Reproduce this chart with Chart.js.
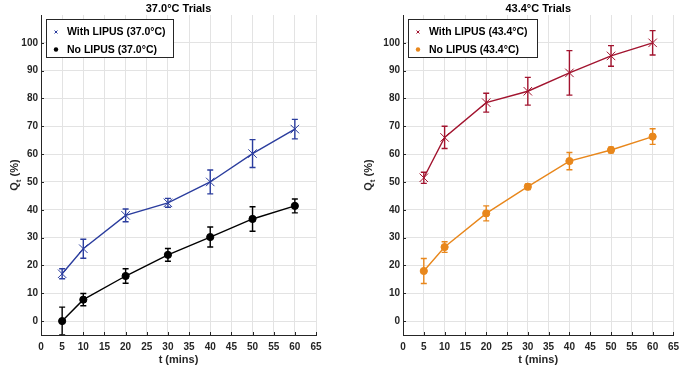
<!DOCTYPE html>
<html>
<head>
<meta charset="utf-8">
<script src="https://cdn.jsdelivr.net/npm/chart.js@4"></script>
<style>
    body { margin: 0; background: #fff; }
    .wrap { position: absolute; top: 0; width: 342px; height: 368px; }
    #leftWrap { left: 0; }
    #rightWrap { left: 343px; }
</style>
</head>
<body>
<div class="wrap" id="leftWrap"><canvas id="chart37"></canvas></div>
<div class="wrap" id="rightWrap"><canvas id="chart43"></canvas></div>
<script>
// ===================================
// Q_t vs time, with / without LIPUS
// ===================================

const times = [5, 10, 20, 30, 40, 50, 60];
const xTicks = [0, 5, 10, 15, 20, 25, 30, 35, 40, 45, 50, 55, 60, 65];
const yTicks = [0, 10, 20, 30, 40, 50, 60, 70, 80, 90, 100];

// 37.0 C trials
const lipus37 = [17, 26, 38, 42.5, 50, 60.2, 69];
const lipus37Err = [1.8, 3.4, 2.3, 1.6, 4.3, 5, 3.5];
const noLipus37 = [0, 7.7, 16.2, 23.8, 30.2, 36.7, 41.4];
const noLipus37Err = [5, 2.2, 2.6, 2.3, 3.6, 4.4, 2.5];

// 43.4 C trials
const lipus43 = [51.5, 66, 78.5, 82.6, 89.2, 95.3, 100];
const lipus43Err = [2, 4, 3.4, 5, 8, 3.7, 4.4];
const noLipus43 = [18, 26.6, 38.7, 48.3, 57.5, 61.5, 66.3];
const noLipus43Err = [4.5, 1.9, 2.7, 1, 3.1, 1, 2.8];

const AXIS_COLOR = '#262626';
const GRID_COLOR = '#e3e3e3';
const FONT = 'Liberation Sans, Arial, sans-serif';

function toPoints(values) {
    return times.map((t, i) => ({ x: t, y: values[i] }));
}

// Error bars drawn through the chart scales
const errorBarPlugin = {
    id: 'errorBars',
    beforeDatasetsDraw(chart) {
        const ctx = chart.ctx;
        const xs = chart.scales.x;
        const ys = chart.scales.y;
        const area = chart.chartArea;
        ctx.save();
        ctx.beginPath();
        ctx.rect(area.left, area.top, area.right - area.left, area.bottom - area.top);
        ctx.clip();
        chart.data.datasets.forEach(ds => {
            ctx.strokeStyle = ds.borderColor;
            ctx.lineWidth = 1.4;
            ds.data.forEach((p, i) => {
                const e = ds.errors[i];
                const px = xs.getPixelForValue(p.x);
                const top = ys.getPixelForValue(p.y + e);
                const bot = ys.getPixelForValue(p.y - e);
                ctx.beginPath();
                ctx.moveTo(px, top); ctx.lineTo(px, bot);
                ctx.moveTo(px - 3, top); ctx.lineTo(px + 3, top);
                ctx.moveTo(px - 3, bot); ctx.lineTo(px + 3, bot);
                ctx.stroke();
            });
        });
        ctx.restore();
    }
};

// Title, axis titles, inward tick marks and boxed legend
const decorPlugin = {
    id: 'decor',
    afterDraw(chart, args, opts) {
        const ctx = chart.ctx;
        const area = chart.chartArea;
        const cx = (area.left + area.right) / 2;
        ctx.save();

        // inward tick marks
        ctx.strokeStyle = AXIS_COLOR;
        ctx.lineWidth = 1;
        ctx.beginPath();
        xTicks.forEach(v => {
            const px = Math.round(chart.scales.x.getPixelForValue(v)) + 0.5;
            ctx.moveTo(px, area.bottom); ctx.lineTo(px, area.bottom - 3);
        });
        yTicks.forEach(v => {
            const py = Math.round(chart.scales.y.getPixelForValue(v)) + 0.5;
            ctx.moveTo(area.left, py); ctx.lineTo(area.left + 3, py);
        });
        ctx.stroke();

        ctx.fillStyle = '#000';
        ctx.textAlign = 'center';
        ctx.textBaseline = 'middle';
        ctx.font = 'bold 11px ' + FONT;
        ctx.fillText(opts.title, cx, 9);
        ctx.fillStyle = AXIS_COLOR;
        ctx.fillText('t (mins)', cx, 360);

        // y title: Q with subscript t
        ctx.save();
        ctx.translate(opts.yTitleX, (area.top + area.bottom) / 2);
        ctx.rotate(-Math.PI / 2);
        ctx.textAlign = 'left';
        ctx.textBaseline = 'alphabetic';
        ctx.font = 'bold 11px ' + FONT;
        const wQ = ctx.measureText('Q').width;
        ctx.font = 'bold 8px ' + FONT;
        const wt = ctx.measureText('t').width;
        ctx.font = 'bold 11px ' + FONT;
        const wRest = ctx.measureText(' (%)').width;
        let x0 = -(wQ + wt + wRest) / 2;
        ctx.fillText('Q', x0, 0);
        ctx.font = 'bold 8px ' + FONT;
        ctx.fillText('t', x0 + wQ, 3);
        ctx.font = 'bold 11px ' + FONT;
        ctx.fillText(' (%)', x0 + wQ + wt, 0);
        ctx.restore();

        // legend box
        const lx = opts.legendX;
        ctx.fillStyle = '#fff';
        ctx.fillRect(lx, 19, opts.legendW, 38);
        ctx.strokeStyle = AXIS_COLOR;
        ctx.lineWidth = 1;
        ctx.strokeRect(lx + 0.5, 19.5, opts.legendW, 38);
        ctx.textAlign = 'left';
        ctx.textBaseline = 'middle';
        ctx.font = 'bold 10.5px ' + FONT;
        chart.data.datasets.forEach((ds, i) => {
            const y = 32 + i * 17.5;
            const mx = lx + 10;
            ctx.fillStyle = ds.borderColor;
            ctx.strokeStyle = ds.borderColor;
            if (ds.pointStyle === 'crossRot') {
                ctx.lineWidth = 1;
                ctx.beginPath();
                ctx.moveTo(mx - 1.5, y - 1.5); ctx.lineTo(mx + 1.5, y + 1.5);
                ctx.moveTo(mx + 1.5, y - 1.5); ctx.lineTo(mx - 1.5, y + 1.5);
                ctx.stroke();
            } else {
                ctx.beginPath();
                ctx.arc(mx, y, 2.2, 0, Math.PI * 2);
                ctx.fill();
            }
            ctx.fillStyle = '#000';
            ctx.fillText(ds.label, lx + 21, y + 0.5);
        });
        ctx.restore();
    }
};

function makeDataset(label, values, errors, color, style) {
    return {
        label: label,
        data: toPoints(values),
        errors: errors,
        borderColor: color,
        backgroundColor: color,
        borderWidth: 1.4,
        showLine: true,
        pointStyle: style,
        pointRadius: style === 'crossRot' ? 6 : 3.6,
        pointBorderWidth: 1,
        pointHoverRadius: 0
    };
}

function buildChart(canvasId, datasets, leftWidth, rightPad, decor) {
    return new Chart(document.getElementById(canvasId), {
        type: 'scatter',
        data: { datasets: datasets },
        plugins: [errorBarPlugin, decorPlugin],
        options: {
            responsive: true,
            maintainAspectRatio: false,
            animation: false,
            layout: { padding: { top: 15, right: rightPad, left: 0, bottom: 0 } },
            plugins: {
                legend: { display: false },
                tooltip: { enabled: false },
                decor: decor
            },
            scales: {
                x: {
                    type: 'linear',
                    min: 0,
                    max: 65,
                    afterBuildTicks: s => { s.ticks = xTicks.map(v => ({ value: v })); },
                    afterFit: s => { s.height = 33; },
                    grid: { color: GRID_COLOR, drawTicks: false },
                    border: { color: AXIS_COLOR, width: 1 },
                    ticks: {
                        color: AXIS_COLOR,
                        padding: 6,
                        maxRotation: 0,
                        autoSkip: false,
                        font: { family: FONT, size: 10, weight: 'bold' }
                    }
                },
                y: {
                    type: 'linear',
                    min: -5,
                    max: 110,
                    afterBuildTicks: s => { s.ticks = yTicks.map(v => ({ value: v })); },
                    afterFit: s => { s.width = leftWidth; },
                    grid: { color: GRID_COLOR, drawTicks: false },
                    border: { color: AXIS_COLOR, width: 1 },
                    ticks: {
                        color: AXIS_COLOR,
                        padding: 3,
                        autoSkip: false,
                        font: { family: FONT, size: 10, weight: 'bold' }
                    }
                }
            }
        }
    });
}

buildChart('chart37', [
    makeDataset('With LIPUS (37.0°C)', lipus37, lipus37Err, '#2b3d9e', 'crossRot'),
    makeDataset('No LIPUS (37.0°C)', noLipus37, noLipus37Err, '#000000', 'circle')
], 41, 26, { title: '37.0°C Trials', yTitleX: 18, legendX: 46, legendW: 127 });

buildChart('chart43', [
    makeDataset('With LIPUS (43.4°C)', lipus43, lipus43Err, '#a2142f', 'crossRot'),
    makeDataset('No LIPUS (43.4°C)', noLipus43, noLipus43Err, '#e8871c', 'circle')
], 60, 7, { title: '43.4°C Trials', yTitleX: 29, legendX: 65, legendW: 129 });
</script>
</body>
</html>
